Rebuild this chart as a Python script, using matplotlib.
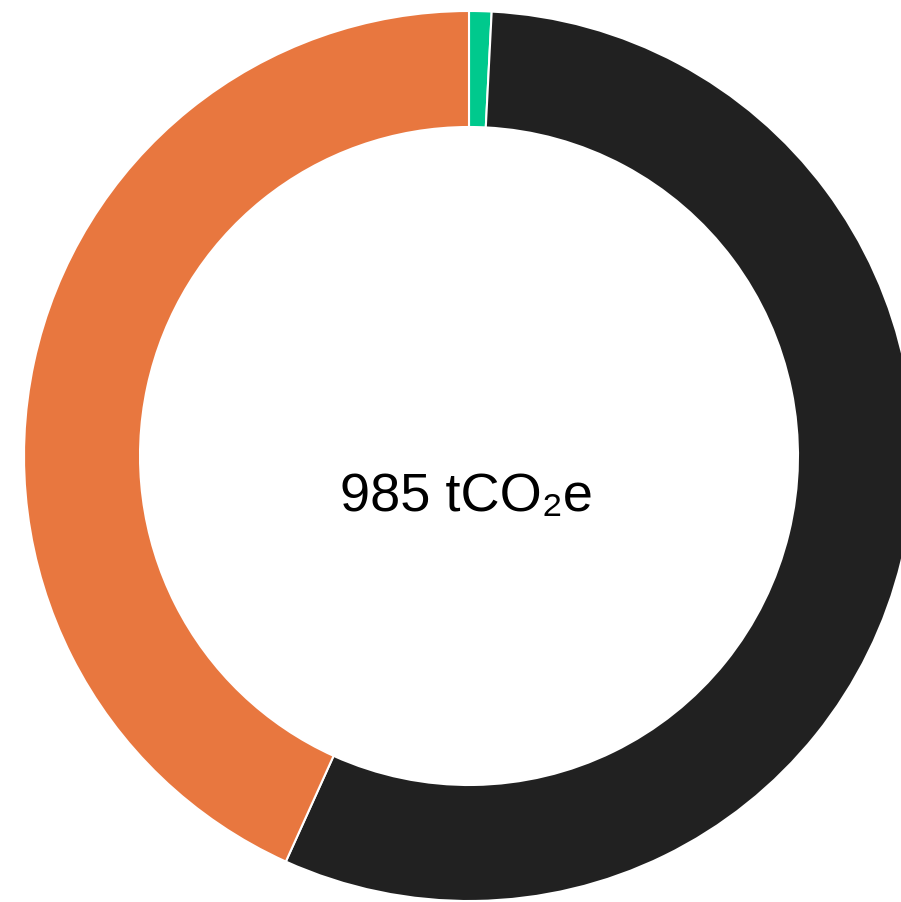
import matplotlib.pyplot as plt

labels = ['green', 'black', 'orange']
values = [8, 551, 426]  # tCO2e
colors = ['#00C98D', '#212121', '#E8773F']
total_label = '985 tCO\u2082e'

fig = plt.figure(figsize=(9.01, 9.03), dpi=100)
ax = fig.add_axes([0, 0, 1, 1])

# pixel coords: center of ring at (469, 457 from top), outer radius 445
ax.pie(values, colors=colors, startangle=90, counterclock=False,
       center=(469, 903 - 457), radius=445,
       wedgeprops=dict(width=116, edgecolor='white', linewidth=1.5))
ax.set_xlim(0, 901)
ax.set_ylim(0, 903)
ax.set_aspect('equal')
ax.axis('off')

ax.text(466, 903 - 497, total_label, ha='center', va='center',
        fontsize=39, family=['Liberation Sans', 'DejaVu Sans'], color='black')

plt.savefig('out.png', dpi=100)
